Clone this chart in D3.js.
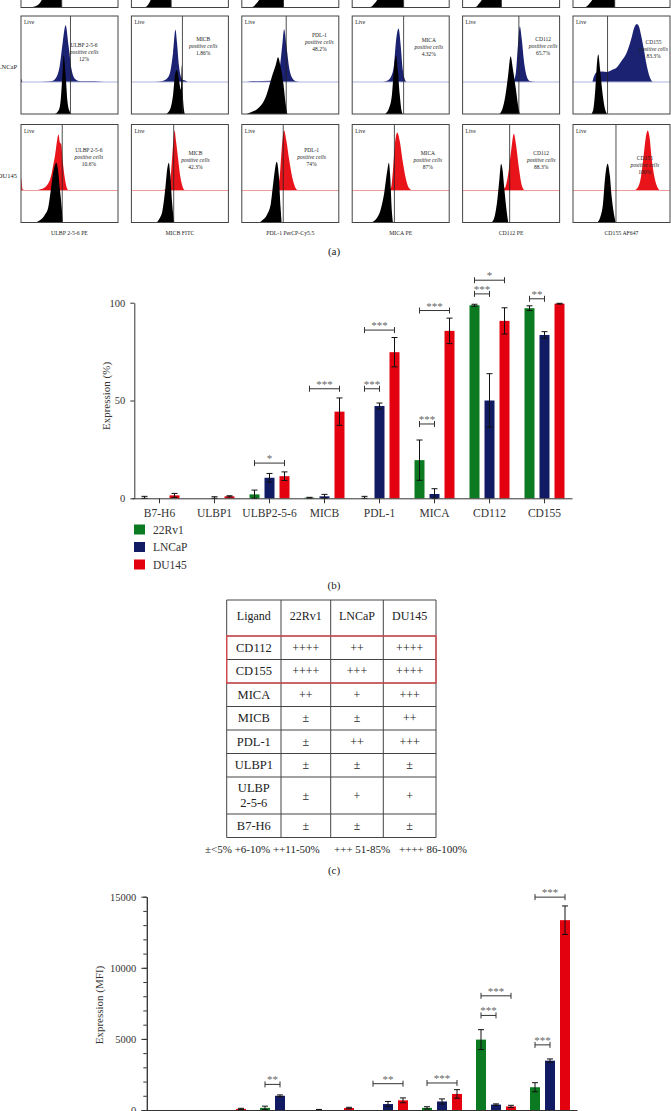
<!DOCTYPE html>
<html>
<head>
<meta charset="utf-8">
<script src="https://cdn.jsdelivr.net/npm/d3@7"></script>
<style>
body { margin: 0; background: #fff; }
text { font-family: "Liberation Serif", "DejaVu Serif", serif; }
</style>
</head>
<body>
<script>
// ---------- panel (a): flow histograms ----------
var markers = ["ULBP 2-5-6", "MICB", "PDL-1", "MICA", "CD112", "CD155"];
var markerAxis = ["ULBP 2-5-6 PE", "MICB FITC", "PDL-1 PerCP-Cy5.5", "MICA PE", "CD112 PE", "CD155 AF647"];
var lncapPositive = ["12%", "1.86%", "48.2%", "4.32%", "65.7%", "83.3%"];
var du145Positive = ["10.6%", "42.3%", "74%", "87%", "88.3%", "100%"];
var rv1Gates = [42, 41, 43, 53, 40, 43];
var lncapGates = [51, 52.6, 45.8, 53, 58, 35.6];
var du145Gates = [42.5, 43.6, 42.7, 43.5, 48.5, 44.3];

// histogram points: [fluorescence (% of box width), count (% of height)]
var rv1Isotype = [
  [[10,0],[14,1],[18,3],[21,7],[26,18],[32,35],[37,55],[40,62],[41.5,20],[42,0]],
  [[12,0],[15.5,1],[18,4],[20,8],[26,20],[33,40],[38,60],[40.5,30],[41,0]],
  [[9,0],[12,1],[15,4],[18,8],[25,20],[33,40],[40,60],[42.5,30],[43,0]],
  [[16,0],[20,1],[23,4],[26,8],[32,20],[40,40],[47,60],[52,30],[53,0]],
  [[11,0],[14.4,1],[17,4],[20,8],[26,20],[32,40],[37,60],[39.5,30],[40,0]],
  [[11,0],[14,1],[17,4],[20,8],[26,20],[33,40],[40,60],[42.5,30],[43,0]]
];
var lncapStained = [
  [[0,0],[0.5,5],[1.5,0],[20,0],[31,1],[36,6],[40,25],[43,60],[46,86],[49,55],[52,20],[56,4],[61,1],[75,1],[85,0]],
  [[25,0],[31,1],[36,4],[40,15],[43,45],[45.4,79],[47,60],[49,25],[51,8],[53,3],[56,2],[58,0]],
  [[5,0],[10,1],[30,2],[36,5],[39,20],[42,60],[43.6,80],[46,55],[49,20],[52,6],[56,1],[60,0]],
  [[30,0],[36,2],[40,8],[43,25],[45,60],[47.8,81],[50,55],[52,20],[54,5],[56,0]],
  [[50,0],[53,3],[55,15],[57,55],[59,84],[61,65],[63,35],[65,15],[67,5],[70,1],[75,0]],
  [[20,0],[21.5,8],[25,15],[30,16],[35,15],[40,18],[45,22],[50,32],[55,43],[60,65],[63,82],[66,88],[68,84],[70,72],[73,50],[76,25],[79,8],[82,0]]
];
var lncapIsotype = [
  [[35,0],[39,4],[41,15],[43,45],[44,60],[46,40],[48,12],[50,3],[52,0]],
  [[36,0],[40,5],[43,20],[45,40],[47,45],[49,35],[51,25],[52,50],[53,20],[55,0]],
  [[5,0],[10,2],[16,5],[25,18],[31,38],[35,50],[37.4,58],[40,48],[43,30],[45,12],[47,0]],
  [[34,0],[38,6],[41,20],[43,45],[45.2,60],[47,45],[49,20],[51,3],[52,0]],
  [[38,0],[41,5],[44,18],[47,40],[49.5,59],[52,45],[55,25],[57,10],[59,0]],
  [[19,0],[21,5],[23,25],[25,55],[26,61],[28,45],[30,25],[32,10],[34,2],[35,0]]
];
var du145Stained = [
  [[0,0],[0.5,19],[1.5,2],[5,0],[12.5,0],[22.7,3],[29.6,15],[34.7,50],[38.8,85],[40,73],[41.5,70],[43,45],[45,20],[47,5],[49,0]],
  [[30,0],[35,2],[39,8],[41,30],[43,70],[44.5,91],[46,75],[48,50],[50,25],[52,10],[54,2],[56,0]],
  [[32,0],[36,3],[39,20],[41,60],[43.6,91],[46,75],[49,45],[52,20],[55,5],[58,0]],
  [[37,0],[40,4],[42,30],[44,70],[46.5,88],[49,75],[52,45],[55,20],[58,5],[62,0]],
  [[40,0],[44,5],[47,25],[50,60],[52.8,86],[55,70],[58,35],[61,8],[64,0]],
  [[63,0],[67,5],[70,20],[73,55],[75,80],[77,91],[79,80],[81,50],[84,20],[87,5],[90,0]]
];
var du145Isotype = [
  [[15,0],[19,2],[24,7],[28,15],[31,35],[34,55],[36.4,61],[38,55],[40,35],[42,15],[43,0]],
  [[26,0],[29,4],[32,12],[35,35],[37,55],[38.6,61],[40,50],[42,20],[44,0]],
  [[18,0],[22,3],[26,8],[30,20],[33,45],[36,62],[38,50],[40,15],[41,0]],
  [[20,0],[25,4],[29,12],[33,30],[36,52],[37.8,61],[39,50],[41,10],[42,0]],
  [[30,0],[33,6],[36,25],[38,45],[39.7,60],[41,55],[43,35],[45,15],[47,0]],
  [[25,0],[28,5],[31,20],[33,45],[35.7,60],[38,48],[40,25],[42,10],[44,0]]
];

// ---------- panels (b) and (d): bar charts ----------
var categories = ["B7-H6", "ULBP1", "ULBP2-5-6", "MICB", "PDL-1", "MICA", "CD112", "CD155"];
var cellLines = ["22Rv1", "LNCaP", "DU145"];
var pct22Rv1 = [0, 0, 2, 0.3, 0, 19.5, 98.7, 97.2];
var pctLNCaP = [0, 0, 10.5, 1, 47.2, 2.2, 50, 83.5];
var pctDU145 = [1.5, 1, 11.3, 44.3, 74.7, 85.6, 90.7, 99.5];
var pctErr22Rv1 = [1, 0, 2.2, 0.2, 1, 10.3, 0.5, 1.2];
var pctErrLNCaP = [0, 0.8, 2.2, 1, 1.5, 2.7, 13.7, 1.7];
var pctErrDU145 = [1, 0.3, 2.2, 7, 7.5, 6.5, 6.7, 0.2];
// [category, from series, to series, height, label]
var pctSig = [
  ["ULBP2-5-6", 0, 2, 18, "*"],
  ["MICB", 0, 2, 56, "***"],
  ["PDL-1", 0, 1, 56, "***"],
  ["PDL-1", 0, 2, 86, "***"],
  ["MICA", 0, 1, 38, "***"],
  ["MICA", 0, 2, 96, "***"],
  ["CD112", 0, 1, 104.5, "***"],
  ["CD112", 0, 2, 111.5, "*"],
  ["CD155", 0, 1, 102, "**"]
];

var mfi22Rv1 = [0, 0, 150, 0, 0, 150, 4950, 1600];
var mfiLNCaP = [0, 0, 1000, 0, 420, 600, 380, 3470];
var mfiDU145 = [0, 80, 0, 140, 680, 1130, 250, 13350];
var mfiErr22Rv1 = [0, 0, 120, 40, 0, 80, 700, 320];
var mfiErrLNCaP = [0, 0, 60, 0, 180, 180, 50, 120];
var mfiErrDU145 = [0, 40, 0, 50, 170, 300, 80, 1000];
var mfiSig = [
  ["ULBP2-5-6", 0, 1, 1800, "**"],
  ["PDL-1", 0, 2, 1850, "**"],
  ["MICA", 0, 2, 1900, "***"],
  ["CD112", 0, 1, 6650, "***"],
  ["CD112", 0, 2, 8030, "***"],
  ["CD155", 0, 1, 4580, "***"],
  ["CD155", 0, 2, 14970, "***"]
];

// ---------- panel (c): table ----------
var tableLigands = ["CD112", "CD155", "MICA", "MICB", "PDL-1", "ULBP1", "ULBP 2-5-6", "B7-H6"];
var table22Rv1 = ["++++", "++++", "++", "±", "±", "±", "±", "±"];
var tableLNCaP = ["++", "+++", "+", "±", "++", "±", "+", "±"];
var tableDU145 = ["++++", "++++", "+++", "++", "+++", "±", "+", "±"];
var tableKey = ["±<5% +6-10% ++11-50%", "+++ 51-85%", "++++ 86-100%"];

// ---------- layout ----------
var W = 671, H = 1111;
var barColors = ["#0c7a20", "#111b63", "#e3000f"];
var serif = "'Liberation Serif', 'DejaVu Serif', serif";
var boxW = 97, boxH = 98, boxX0 = 21, boxStep = 110.4, upperH = 66;
var lncapTextPos = [[65,29],[74,23],[80,19],[79,24],[83,23],[83,26]];
var du145TextPos = [[70,25],[66,28],[72,25],[78,28],[81,28],[74,33]];

var svg = d3.select("body").append("svg")
  .attr("width", W)
  .attr("height", H);

svg.append("rect").attr("width", W).attr("height", H).attr("fill", "#fff");

function flowRow(rowKey, top, iso, stained, gates, fill, baseColor, pcts, textPos, rowName) {
  markers.forEach(function(m, i) {
    var x0 = boxX0 + i * boxStep;
    var g = svg.append("g").attr("transform", "translate(" + x0 + "," + top + ")");
    var clipId = "clip-" + rowKey + "-" + i;
    g.append("clipPath").attr("id", clipId)
      .append("rect").attr("width", boxW).attr("height", boxH);
    var inner = g.append("g").attr("clip-path", "url(#" + clipId + ")");

    var x = d3.scaleLinear().domain([0, 100]).range([0, boxW]);
    var yIso = d3.scaleLinear().domain([0, 100]).range([boxH, 0]);

    if (stained) {
      var yStain = d3.scaleLinear().domain([0, 100]).range([upperH, 0]);
      inner.append("path")
        .datum(stained[i])
        .attr("d", d3.area().x(function(d){ return x(d[0]); })
          .y0(upperH).y1(function(d){ return yStain(d[1]); })
          .curve(d3.curveMonotoneX))
        .attr("fill", fill);
      inner.append("line")
        .attr("x1", 0).attr("x2", boxW)
        .attr("y1", upperH).attr("y2", upperH)
        .style("stroke", baseColor).style("stroke-width", 1);
    }

    inner.append("path")
      .datum(iso[i])
      .attr("d", d3.area().x(function(d){ return x(d[0]); })
        .y0(boxH).y1(function(d){ return yIso(d[1]); })
        .curve(d3.curveMonotoneX))
      .attr("fill", "#000");

    g.append("line")
      .attr("x1", x(gates[i])).attr("x2", x(gates[i]))
      .attr("y1", 0).attr("y2", boxH)
      .style("stroke", "#222").style("stroke-width", 0.8);

    g.append("rect")
      .attr("width", boxW).attr("height", boxH)
      .style("fill", "none").style("stroke", "#444").style("stroke-width", 1);

    if (pcts) {
      g.append("text").attr("x", 3).attr("y", 8)
        .attr("font-size", 5.5).attr("fill", "#222").text("Live");
      var tx = x(textPos[i][0]), ty = textPos[i][1] + 2;
      var lines = [m, "positive cells", pcts[i]];
      lines.forEach(function(t, k) {
        g.append("text")
          .attr("x", tx).attr("y", ty + k * 7)
          .attr("text-anchor", "middle")
          .attr("font-size", 5.5)
          .attr("font-style", k == 1 ? "italic" : "normal")
          .attr("fill", "#222")
          .text(t);
      });
    }
  });
  if (rowName) {
    svg.append("text").attr("x", 17).attr("y", top + 53)
      .attr("text-anchor", "end").attr("font-size", 6.5).attr("fill", "#222")
      .text(rowName);
  }
}

flowRow("rv1", 7.5 - boxH, rv1Isotype, null, rv1Gates, null, null, null, null, null);
flowRow("lncap", 16, lncapIsotype, lncapStained, lncapGates, "#1b2272", "#aeb4dc", lncapPositive, lncapTextPos, "LNCaP");
flowRow("du145", 124.5, du145Isotype, du145Stained, du145Gates, "#e8141a", "#f29a9a", du145Positive, du145TextPos, "DU145");

markerAxis.forEach(function(t, i) {
  svg.append("text")
    .attr("x", boxX0 + i * boxStep + boxW / 2).attr("y", 234.5)
    .attr("text-anchor", "middle").attr("font-size", 5.8).attr("fill", "#222")
    .text(t);
});

function panelLabel(t, y) {
  svg.append("text").attr("x", 334).attr("y", y)
    .attr("text-anchor", "middle").attr("font-size", 11).attr("fill", "#222")
    .text(t);
}
panelLabel("(a)", 255);

// ---------- bar chart helper ----------
function styleAxis(sel, size) {
  sel.attr("font-family", serif).attr("font-size", size).attr("color", "#333");
  sel.selectAll("text").attr("fill", "#333");
}

function barPanel(p) {
  var x = d3.scaleBand().domain(categories).range(p.xRange);
  var y = d3.scaleLinear().domain(p.yDomain).range(p.yRange);
  var cx = function(cat, s) { return x(cat) + x.bandwidth() / 2 + (s - 1) * 15; };
  var g = svg.append("g");

  p.values.forEach(function(vals, s) {
    g.selectAll(null).data(vals).enter().append("rect")
      .attr("x", function(d, i) { return cx(categories[i], s) - 5; })
      .attr("y", function(d) { return y(d); })
      .attr("width", 10)
      .attr("height", function(d) { return y(0) - y(d); })
      .attr("fill", barColors[s]);
  });

  p.errors.forEach(function(errs, s) {
    errs.forEach(function(e, i) {
      if (!e) return;
      var v = p.values[s][i], xc = cx(categories[i], s);
      var lo = Math.max(0, v - e), hi = v + e;
      g.append("line").attr("x1", xc).attr("x2", xc)
        .attr("y1", y(lo)).attr("y2", y(hi))
        .style("stroke", "#111").style("stroke-width", 1);
      [hi, lo].forEach(function(c) {
        g.append("line").attr("x1", xc - 3).attr("x2", xc + 3)
          .attr("y1", y(c)).attr("y2", y(c))
          .style("stroke", "#111").style("stroke-width", 1);
      });
    });
  });

  p.sig.forEach(function(b) {
    var x1 = cx(b[0], b[1]), x2 = cx(b[0], b[2]), yy = y(b[3]);
    g.append("path")
      .attr("d", "M" + x1 + "," + (yy - 3) + "V" + (yy + 3) +
        "M" + x1 + "," + yy + "H" + x2 +
        "M" + x2 + "," + (yy - 3) + "V" + (yy + 3))
      .style("fill", "none").style("stroke", "#333").style("stroke-width", 1);
    g.append("text")
      .attr("x", (x1 + x2) / 2).attr("y", yy - 1)
      .attr("text-anchor", "middle").attr("font-size", 11).attr("fill", "#666")
      .text(b[4]);
  });

  if (p.minorTicks) {
    var ym = g.append("g").attr("transform", "translate(" + p.axisX + ",0)")
      .call(d3.axisLeft(y).tickValues(p.minorTicks).tickSize(3.5).tickSizeOuter(0).tickFormat(""));
    styleAxis(ym, 10);
  }
  var ya = g.append("g").attr("transform", "translate(" + p.axisX + ",0)")
    .call(d3.axisLeft(y).tickValues(p.ticks).tickSize(p.tickLen).tickSizeOuter(0)
      .tickPadding(5).tickFormat(d3.format("d")));
  styleAxis(ya, 10.5);

  var xa = g.append("g").attr("transform", "translate(0," + y(0) + ")")
    .call(d3.axisBottom(x).tickSize(5).tickSizeOuter(0).tickPadding(6));
  styleAxis(xa, 11.5);

  g.append("text")
    .attr("transform", "translate(" + p.labelX + "," + p.labelY + ") rotate(-90)")
    .attr("text-anchor", "middle").attr("font-size", 11).attr("fill", "#333")
    .text(p.yLabel);
}

// ---------- panel (b) ----------
barPanel({
  xRange: [132, 572],
  yDomain: [0, 100], yRange: [498.3, 302.7],
  axisX: 134.3, ticks: [0, 50, 100], tickLen: 4,
  values: [pct22Rv1, pctLNCaP, pctDU145],
  errors: [pctErr22Rv1, pctErrLNCaP, pctErrDU145],
  sig: pctSig,
  yLabel: "Expression (%)", labelX: 110, labelY: 396
});

cellLines.forEach(function(c, i) {
  svg.append("rect").attr("x", 134).attr("y", 524.5 + i * 17.5)
    .attr("width", 11).attr("height", 10).attr("fill", barColors[i]);
  svg.append("text").attr("x", 153).attr("y", 533.5 + i * 17.5)
    .attr("font-size", 11.5).attr("fill", "#333").text(c);
});
panelLabel("(b)", 589);

// ---------- panel (c) ----------
var colX = [226.7, 281, 330.7, 383.3, 436];
var rowH = tableLigands.map(function(l) { return l.indexOf(" ") > 0 ? 37 : 23.5; });
var tableTop = 600, headerH = 36;
var rowY = [tableTop, tableTop + headerH];
rowH.forEach(function(h) { rowY.push(rowY[rowY.length - 1] + h); });
var tg = svg.append("g");

function cellText(t, xc, yc, size) {
  var parts = t.indexOf(" ") > 0 && t.indexOf("ULBP") == 0 ? t.split(" ") : [t];
  var txt = tg.append("text").attr("x", xc).attr("text-anchor", "middle")
    .attr("font-size", size).attr("fill", "#222");
  parts.forEach(function(p, k) {
    txt.append("tspan").attr("x", xc)
      .attr("y", yc + 4 + (k - (parts.length - 1) / 2) * 15)
      .text(p);
  });
}

var header = ["Ligand"].concat(cellLines);
header.forEach(function(h, j) {
  cellText(h, (colX[j] + colX[j + 1]) / 2, tableTop + headerH / 2 - 2, 12);
});
tableLigands.forEach(function(l, r) {
  var yc = (rowY[r + 1] + rowY[r + 2]) / 2;
  var cells = [l, table22Rv1[r], tableLNCaP[r], tableDU145[r]];
  cells.forEach(function(c, j) {
    cellText(c, (colX[j] + colX[j + 1]) / 2, yc, j == 0 ? 12.5 : 12);
  });
});

rowY.forEach(function(yv) {
  tg.append("line").attr("x1", colX[0]).attr("x2", colX[4])
    .attr("y1", yv).attr("y2", yv)
    .style("stroke", "#444").style("stroke-width", 1);
});
colX.forEach(function(xv) {
  tg.append("line").attr("x1", xv).attr("x2", xv)
    .attr("y1", rowY[0]).attr("y2", rowY[rowY.length - 1])
    .style("stroke", "#444").style("stroke-width", 1);
});
tg.append("rect")
  .attr("x", colX[0]).attr("y", rowY[1])
  .attr("width", colX[4] - colX[0]).attr("height", rowY[3] - rowY[1])
  .style("fill", "none").style("stroke", "#e0484c").style("stroke-width", 1.3);

var keyX = [205, 334, 399];
tableKey.forEach(function(k, i) {
  svg.append("text").attr("x", keyX[i]).attr("y", 853)
    .attr("font-size", 11).attr("fill", "#222").text(k);
});
panelLabel("(c)", 874);

// ---------- panel (d) ----------
barPanel({
  xRange: [145, 577],
  yDomain: [0, 15000], yRange: [1110, 896.7],
  axisX: 146.8, ticks: [0, 5000, 10000, 15000], tickLen: 5.5,
  minorTicks: d3.range(0, 15001, 1000),
  values: [mfi22Rv1, mfiLNCaP, mfiDU145],
  errors: [mfiErr22Rv1, mfiErrLNCaP, mfiErrDU145],
  sig: mfiSig,
  yLabel: "Expression (MFI)", labelX: 103, labelY: 1005
});
</script>
</body>
</html>
